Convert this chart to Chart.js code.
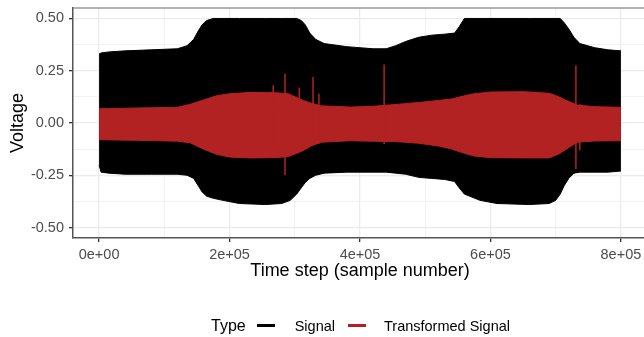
<!DOCTYPE html>
<html>
<head>
<meta charset="utf-8">
<script src="https://cdn.jsdelivr.net/npm/chart.js@4.4.0/dist/chart.umd.min.js"></script>
<style>
  html, body { margin: 0; padding: 0; background: #fff; }
  #wrap { position: relative; width: 644px; height: 337px; overflow: hidden; }
  #legend {
    position: absolute; left: 211px; top: 315px; height: 21px;
    display: flex; align-items: center;
    font-family: "Liberation Sans", Arial, sans-serif; color: #000;
  }
  #legend .title { font-size: 16px; }
  #legend .item { font-size: 14.5px; }
  #legend .key { width: 18px; height: 2.5px; }
</style>
</head>
<body>
<div id="wrap">
  <canvas id="signalChart" width="660" height="337"></canvas>
  <div id="legend">
    <span class="title">Type</span>
    <span class="key" style="background:#000; margin-left:11px"></span>
    <span class="item" style="margin-left:20px">Signal</span>
    <span class="key" style="background:#B22222; margin-left:13px"></span>
    <span class="item" style="margin-left:18px">Transformed Signal</span>
  </div>
</div>
<script>
// envelope of the raw signal (sample number, upper / lower voltage)
var signalX = [0, 3000, 15000, 40000, 80000, 120000, 135000, 145000, 152000, 158000, 165000, 175000,
  190000, 215000, 255000, 280000, 293000, 303000, 310000, 316000, 323000, 332000, 345000, 380000,
  420000, 440000, 455000, 470000, 490000, 510000, 530000, 545000, 552000, 560000, 584000, 610000,
  660000, 690000, 700000, 707000, 713000, 720000, 728000, 737000, 760000, 780000, 800000];
var signalUpper = [0.33, 0.335, 0.34, 0.345, 0.35, 0.355, 0.37, 0.40, 0.44, 0.47, 0.49, 0.50,
  0.50, 0.50, 0.50, 0.50, 0.50, 0.50, 0.49, 0.47, 0.43, 0.40, 0.38, 0.365,
  0.355, 0.355, 0.37, 0.39, 0.41, 0.42, 0.425, 0.43, 0.46, 0.50, 0.50, 0.50,
  0.50, 0.50, 0.50, 0.50, 0.48, 0.45, 0.41, 0.38, 0.36, 0.35, 0.345];
var signalLower = [-0.20, -0.235, -0.24, -0.245, -0.245, -0.245, -0.25, -0.265, -0.30, -0.33, -0.35, -0.36,
  -0.37, -0.385, -0.39, -0.385, -0.37, -0.34, -0.31, -0.285, -0.265, -0.25, -0.24, -0.235,
  -0.235, -0.235, -0.24, -0.245, -0.26, -0.265, -0.27, -0.28, -0.31, -0.34, -0.37, -0.385,
  -0.39, -0.385, -0.37, -0.34, -0.30, -0.265, -0.24, -0.235, -0.235, -0.235, -0.23];

// envelope of the transformed signal
var transX = [0, 60000, 120000, 140000, 160000, 180000, 200000, 230000, 270000, 290000, 303000, 313000,
  325000, 340000, 385000, 420000, 460000, 490000, 520000, 540000, 560000, 575000, 600000, 650000,
  690000, 705000, 715000, 733000, 760000, 800000];
var transUpper = [0.068, 0.072, 0.075, 0.09, 0.11, 0.13, 0.14, 0.146, 0.145, 0.14, 0.122, 0.108,
  0.095, 0.082, 0.076, 0.08, 0.09, 0.098, 0.108, 0.115, 0.13, 0.14, 0.148, 0.15,
  0.142, 0.125, 0.11, 0.086, 0.078, 0.075];
var transLower = [-0.080, -0.083, -0.087, -0.095, -0.125, -0.15, -0.163, -0.167, -0.166, -0.16, -0.145, -0.132,
  -0.11, -0.092, -0.085, -0.087, -0.09, -0.097, -0.11, -0.124, -0.145, -0.158, -0.166, -0.167,
  -0.167, -0.148, -0.128, -0.092, -0.086, -0.085];

// isolated spikes in the transformed signal
var spikeX = [267000, 285000, 307000, 328000, 337000, 437000, 731000, 737000];
var spikeTop = [0.18, 0.235, 0.17, 0.22, 0.14, 0.28, 0.275, 0.09];
var spikeBottom = [-0.10, -0.25, -0.10, -0.10, -0.10, -0.10, -0.22, -0.13];

// axis ticks
var xMajor = [0, 200000, 400000, 600000, 800000];
var xLabels = ['0e+00', '2e+05', '4e+05', '6e+05', '8e+05'];
var xMinor = [100000, 300000, 500000, 700000];
var yMajor = [-0.5, -0.25, 0, 0.25, 0.5];
var yLabels = ['-0.50', '-0.25', '0.00', '0.25', '0.50'];
var yMinor = [-0.375, -0.125, 0.125, 0.375];

var BLACK = '#000000';
var RED = '#B22222';
var FONT = '"Liberation Sans", Arial, sans-serif';

function toPoints(xs, ys) {
    return xs.map(function (x, i) { return { x: x, y: ys[i] }; });
}

function spikePoints() {
    var pts = [];
    spikeX.forEach(function (x, i) {
        pts.push({ x: x, y: spikeBottom[i] });
        pts.push({ x: x, y: spikeTop[i] });
        pts.push({ x: x, y: null });
    });
    return pts;
}

function findIndex(list, v) {
    for (var i = 0; i < list.length; i++) {
        if (Math.abs(list[i] - v) < 1e-9) return i;
    }
    return -1;
}

function isMajor(list, ctx) {
    return ctx.tick && findIndex(list, ctx.tick.value) >= 0;
}

// panel top/right border like the ggplot frame
var frameLines = {
    id: 'frameLines',
    afterDraw: function (chart) {
        var a = chart.chartArea, ctx = chart.ctx;
        ctx.save();
        ctx.strokeStyle = '#9a9a9a';
        ctx.lineWidth = 1.5;
        ctx.beginPath();
        ctx.moveTo(a.left, a.top);
        ctx.lineTo(a.right, a.top);
        ctx.lineTo(a.right, a.bottom);
        ctx.stroke();
        ctx.restore();
    }
};

var lineBase = { pointRadius: 0, tension: 0, borderWidth: 1 };

new Chart(document.getElementById('signalChart').getContext('2d'), {
    type: 'line',
    data: {
        datasets: [
            Object.assign({ label: 'Signal', data: toPoints(signalX, signalUpper), borderColor: BLACK,
                backgroundColor: BLACK, fill: '+1', order: 2 }, lineBase),
            Object.assign({ label: 'Signal low', data: toPoints(signalX, signalLower), borderColor: BLACK,
                fill: false, order: 2 }, lineBase),
            Object.assign({ label: 'Transformed Signal', data: toPoints(transX, transUpper), borderColor: RED,
                backgroundColor: RED, fill: '+1', order: 1 }, lineBase),
            Object.assign({ label: 'Transformed low', data: toPoints(transX, transLower), borderColor: RED,
                fill: false, order: 1 }, lineBase),
            { label: 'spikes', data: spikePoints(), borderColor: RED, borderWidth: 1.5, pointRadius: 0,
                fill: false, spanGaps: false, order: 0 }
        ]
    },
    options: {
        responsive: false,
        animation: false,
        layout: { padding: { top: 8, right: 13, bottom: 0, left: 0 } },
        plugins: { legend: { display: false }, tooltip: { enabled: false } },
        scales: {
            x: {
                type: 'linear',
                min: -40000,
                max: 840000,
                afterBuildTicks: function (s) {
                    s.ticks = xMajor.concat(xMinor).sort(function (a, b) { return a - b; })
                        .map(function (v) { return { value: v }; });
                },
                afterFit: function (s) { s.height = 99; s.paddingLeft = 0; s.paddingRight = 0; },
                ticks: {
                    autoSkip: false, maxRotation: 0, padding: 4, color: '#4D4D4D',
                    font: { family: FONT, size: 14.5 },
                    callback: function (v) {
                        var i = findIndex(xMajor, v);
                        return i >= 0 ? xLabels[i] : '';
                    }
                },
                grid: {
                    color: function (c) { return isMajor(xMajor, c) ? '#EBEBEB' : '#F2F2F2'; },
                    lineWidth: function (c) { return isMajor(xMajor, c) ? 1.3 : 1; },
                    tickColor: function (c) { return isMajor(xMajor, c) ? '#333333' : 'rgba(0,0,0,0)'; },
                    tickLength: 4, tickWidth: 1.3
                },
                border: { display: true, color: '#555555', width: 1.5 },
                title: {
                    display: true, text: 'Time step (sample number)', color: '#000',
                    font: { family: FONT, size: 18 }, padding: { top: 0, bottom: 55 }
                }
            },
            y: {
                type: 'linear',
                min: -0.55,
                max: 0.55,
                afterBuildTicks: function (s) {
                    s.ticks = yMajor.concat(yMinor).sort(function (a, b) { return a - b; })
                        .map(function (v) { return { value: v }; });
                },
                afterFit: function (s) { s.width = 73; s.paddingTop = 0; s.paddingBottom = 0; },
                ticks: {
                    autoSkip: false, padding: 5, color: '#4D4D4D',
                    font: { family: FONT, size: 14.5 },
                    callback: function (v) {
                        var i = findIndex(yMajor, v);
                        return i >= 0 ? yLabels[i] : '';
                    }
                },
                grid: {
                    color: function (c) { return isMajor(yMajor, c) ? '#EBEBEB' : '#F2F2F2'; },
                    lineWidth: function (c) { return isMajor(yMajor, c) ? 1.3 : 1; },
                    tickColor: function (c) { return isMajor(yMajor, c) ? '#333333' : 'rgba(0,0,0,0)'; },
                    tickLength: 4, tickWidth: 1.3
                },
                border: { display: true, color: '#555555', width: 1.5 },
                title: {
                    display: true, text: 'Voltage', color: '#000',
                    font: { family: FONT, size: 18 }, padding: { top: 7, bottom: 0 }
                }
            }
        }
    },
    plugins: [frameLines]
});
</script>
</body>
</html>
